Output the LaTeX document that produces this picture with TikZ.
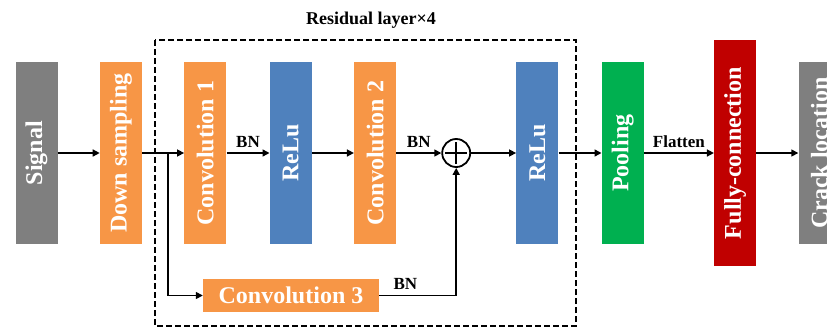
\documentclass[tikz,border=0pt]{standalone}
\usepackage{fontspec}
\setmainfont{Liberation Serif}
\usetikzlibrary{positioning,arrows.meta}
\definecolor{blockgray}{HTML}{7F7F7F}
\definecolor{blockorange}{HTML}{F79646}
\definecolor{blockblue}{HTML}{4F81BD}
\definecolor{blockgreen}{HTML}{00B050}
\definecolor{blockred}{HTML}{C00000}
\newcommand{\uptext}[1]{\rotatebox{90}{#1}}
\tikzstyle{block} = [minimum width=42pt, minimum height=182pt, inner sep=0pt, text=white, font=\fontsize{24}{28}\selectfont\bfseries]
\tikzstyle{wideblock} = [block, minimum width=176pt, minimum height=33pt]
\tikzstyle{sumnode} = [circle, draw, line width=1.8pt, minimum size=28pt, inner sep=0pt,
    path picture={\draw[line width=2pt] ([xshift=-11pt]path picture bounding box.center) -- ([xshift=11pt]path picture bounding box.center);
                  \draw[line width=2pt] ([yshift=-11pt]path picture bounding box.center) -- ([yshift=11pt]path picture bounding box.center);}]
\tikzstyle{line} = [line width=1.5pt, -{Triangle[length=7pt,width=7pt]}]
\tikzstyle{tag} = [above, inner sep=5pt, font=\fontsize{17}{20}\selectfont\bfseries]
\tikzstyle{frame} = [line width=2pt, dash pattern=on 6pt off 3pt]

\begin{document}
\begin{tikzpicture}[x=1pt, y=-1pt, node distance=42pt]
\useasboundingbox (0,0) rectangle (827,327);
\node[block, fill=blockgray] (signal) at (36.5,153) {\uptext{Signal}};
\node[block, fill=blockorange, right=of signal] (down) {\uptext{Down sampling}};
\node[block, fill=blockorange, right=of down] (conv1) {\uptext{Convolution 1}};
\node[block, fill=blockblue, right=43pt of conv1] (relu1) {\uptext{ReLu}};
\node[block, fill=blockorange, right=of relu1] (conv2) {\uptext{Convolution 2}};
\node[sumnode, right=45pt of conv2] (sum) {};
\node[block, fill=blockblue, right=45pt of sum] (relu2) {\uptext{ReLu}};
\node[block, fill=blockgreen, right=43pt of relu2] (pool) {\uptext{Pooling}};
\node[block, fill=blockred, minimum height=226pt, right=70pt of pool] (fc) {\uptext{Fully-connection}};
\node[block, fill=blockgray, right=of fc] (crack) {\uptext{Crack location}};
\node[wideblock, fill=blockorange] (conv3) at (291,295.5) {Convolution 3};
\node[font=\fontsize{18}{21}\selectfont\bfseries] (title) at (371,20) {Residual layer×4};
\coordinate (split) at (168,153);
\coordinate (frametl) at (155,40);
\coordinate (framebr) at (576,326);

\draw[frame] (frametl) rectangle (framebr);
\draw[line] (signal) -- (down);
\draw[line] (down) -- (conv1);
\draw[line] (split) |- (conv3);
\draw[line] (conv1) -- node[tag] {BN} (relu1);
\draw[line] (relu1) -- (conv2);
\draw[line] (conv2) -- node[tag] {BN} (sum);
\draw[line] (conv3) -| node[tag, pos=0.17] {BN} (sum);
\draw[line] (sum) -- (relu2);
\draw[line] (relu2) -- (pool);
\draw[line] (pool) -- node[tag] {Flatten} (fc);
\draw[line] (fc) -- (crack);
\end{tikzpicture}
\end{document}
